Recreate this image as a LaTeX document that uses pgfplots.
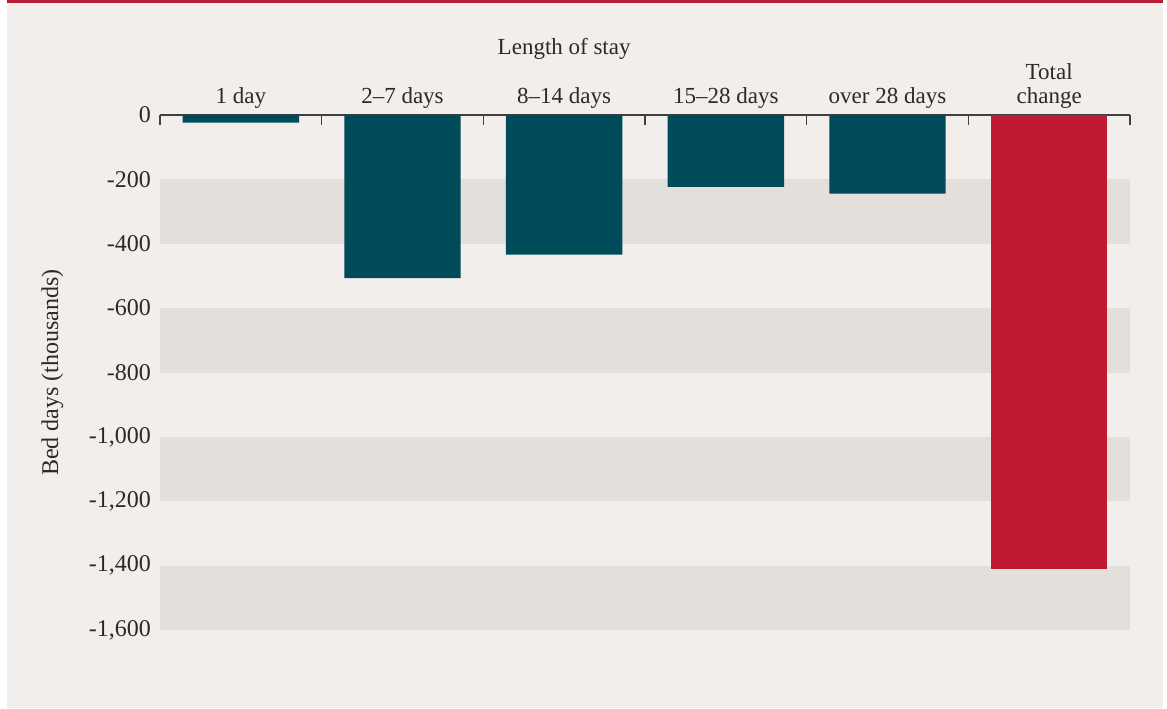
\documentclass[border=0pt]{standalone}
\usepackage{pgfplots}
\pgfplotsset{compat=1.18}
\usepackage{fontspec}
\setmainfont{Liberation Serif}

\definecolor{bgpanel}{HTML}{F1EEEB}
\definecolor{band}{HTML}{E3DFDA}
\definecolor{barteal}{HTML}{004B5A}
\definecolor{barred}{HTML}{BE1A32}
\definecolor{topred}{HTML}{B71C36}
\definecolor{txt}{HTML}{2A2A2A}

\begin{document}
\begin{tikzpicture}[x=1pt,y=1pt]
  % page frame: 1 px = 0.5pt, axis SW corner at pixel (160,630)
  \useasboundingbox (-80,-39) rectangle (503.5,315);
  \fill[white] (-80,-39) rectangle (503.5,315);
  \fill[bgpanel] (-76.5,-39) rectangle (501.5,313.5);
  \fill[topred] (-76.5,313.5) rectangle (501.5,315);
  \begin{axis}[
      at={(0,0)}, anchor=south west,
      scale only axis,
      width=485pt, height=257.5pt,
      xmin=-0.5, xmax=5.5,
      ymin=-1600, ymax=0,
      axis x line*=top,
      axis y line*=left,
      x axis line style={draw=black!75, line width=0.6pt},
      y axis line style={draw=none},
      ytick={0,-200,-400,-600,-800,-1000,-1200,-1400,-1600},
      ytick style={draw=none},
      yticklabel style={font=\fontsize{12}{14}\selectfont, text=txt, xshift=-1pt},
      /pgf/number format/assume math mode=true,
      /pgf/number format/1000 sep={,},
      xtick={0,1,2,3,4,5},
      xticklabels={1 day,2--7 days,8--14 days,15--28 days,over 28 days,{Total\\change}},
      xticklabel style={font=\fontsize{11.5}{12}\selectfont, text=txt, align=center, yshift=-4.5pt},
      major x tick style={draw=none},
      minor xtick={-0.5,0.5,1.5,2.5,3.5,4.5,5.5},
      minor x tick style={draw=black!75, line width=0.6pt, yshift=-5pt},
      minor tick length=5pt,
      tick align=inside,
      ylabel={Bed days (thousands)},
      every axis y label/.style={at={(axis description cs:-0.111,0.5)}, rotate=90, anchor=center,
        font=\fontsize{12}{14}\selectfont, text=txt},
      ybar, bar width=0.72, bar shift=0pt,
      clip=false,
    ]
    \fill[band] (axis cs:-0.5,-200) rectangle (axis cs:5.5,-400);
    \fill[band] (axis cs:-0.5,-600) rectangle (axis cs:5.5,-800);
    \fill[band] (axis cs:-0.5,-1000) rectangle (axis cs:5.5,-1200);
    \fill[band] (axis cs:-0.5,-1400) rectangle (axis cs:5.5,-1600);
    \addplot[fill=barteal, draw=none] coordinates {(0,-24) (1,-507) (2,-434) (3,-223) (4,-244)};
    \addplot[fill=barred, draw=none] coordinates {(5,-1411)};
    \node[font=\fontsize{11.5}{13}\selectfont, text=txt] at (axis cs:2,0) [yshift=33pt] {Length of stay};
  \end{axis}
\end{tikzpicture}
\end{document}
